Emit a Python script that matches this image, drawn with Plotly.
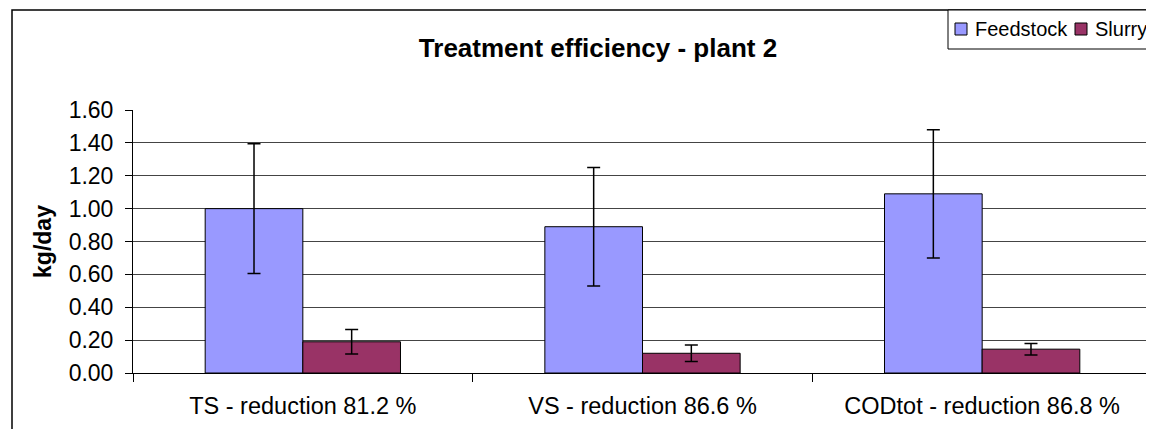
import plotly.graph_objects as go

categories = ["TS - reduction 81.2 %", "VS - reduction 86.6 %", "CODtot - reduction 86.8 %"]
series_names = ["Feedstock", "Slurry"]
series_colors = ["#9999FF", "#993366"]
feedstock = [1.00, 0.89, 1.09]
feedstock_err = [0.395, 0.36, 0.39]
slurry = [0.19, 0.12, 0.145]
slurry_err = [0.075, 0.05, 0.035]
y_ticks = [0.0, 0.2, 0.4, 0.6, 0.8, 1.0, 1.2, 1.4, 1.6]

FONT = "Liberation Sans, Arial, sans-serif"
OFF = 8  # page body margin
W, H = 1154 - OFF, 429 - OFF
L, R = 133 - OFF, 2
T = 110 - OFF
B = H - (373 - OFF)
pw, ph = W - L - R, H - T - B


def px_x(x):  # reference-screen pixel -> paper x
    return (x - OFF - L) / pw


def px_y(y):  # reference-screen pixel -> paper y
    return (H - B - (y - OFF)) / ph


fig = go.Figure()
for name, color, vals, errs in [
    (series_names[0], series_colors[0], feedstock, feedstock_err),
    (series_names[1], series_colors[1], slurry, slurry_err),
]:
    fig.add_trace(go.Bar(
        x=categories, y=vals, name=name, showlegend=False,
        marker=dict(color=color, line=dict(color="black", width=1)),
        error_y=dict(type="data", array=errs, color="black", thickness=1.5, width=6.5),
    ))

shapes = [
    dict(type="rect", xref="paper", yref="paper",
         x0=px_x(12), x1=px_x(1170), y0=px_y(445), y1=px_y(10),
         line=dict(color="black", width=1.5), fillcolor="rgba(0,0,0,0)", layer="below"),
    # legend box
    dict(type="rect", xref="paper", yref="paper",
         x0=px_x(948), x1=px_x(1170), y0=px_y(49), y1=px_y(10),
         line=dict(color="black", width=1), fillcolor="white", layer="above"),
]
annotations = []
legend_sq_x = [955, 1075]
legend_txt_x = [973, 1093]
for i, name in enumerate(series_names):
    shapes.append(dict(type="rect", xref="paper", yref="paper",
                       x0=px_x(legend_sq_x[i]), x1=px_x(legend_sq_x[i] + 12),
                       y0=px_y(35), y1=px_y(23),
                       line=dict(color="black", width=1), fillcolor=series_colors[i], layer="above"))
    annotations.append(dict(text=name, xref="paper", yref="paper",
                            x=px_x(legend_txt_x[i]), y=px_y(29), xanchor="left", yanchor="middle",
                            showarrow=False, font=dict(size=20, family=FONT, color="black")))

fig.update_layout(
    width=W, height=H,
    margin=dict(l=L, r=R, t=T, b=B, autoexpand=False),
    paper_bgcolor="white", plot_bgcolor="white",
    barmode="group", bargap=0.425, bargroupgap=0,
    font=dict(family=FONT, size=23, color="black"),
    title=dict(text="<b>Treatment efficiency - plant 2</b>", x=(598 - OFF) / W, xref="container",
               xanchor="center", y=1 - (48 - OFF) / H, yref="container", yanchor="middle",
               font=dict(size=26, family=FONT, color="black")),
    showlegend=False,
    xaxis=dict(showline=True, linecolor="black", linewidth=1, ticks="outside", ticklen=8,
               tickcolor="black", tickson="boundaries", showgrid=False,
               ticklabelstandoff=12,
               tickfont=dict(size=23.5, family=FONT)),
    yaxis=dict(range=[0, 1.6], tickvals=y_ticks, tickformat=".2f", showline=True,
               linecolor="black", linewidth=1, ticks="outside", ticklen=7, tickcolor="black",
               showgrid=True, gridcolor="#444444", gridwidth=1, zeroline=False,
               ticklabelstandoff=7,
               tickfont=dict(size=23, family=FONT),
               title=dict(text="<b>kg/day</b>", standoff=10, font=dict(size=23, family=FONT))),
    shapes=shapes,
    annotations=annotations,
)

fig.write_html("out.html")
